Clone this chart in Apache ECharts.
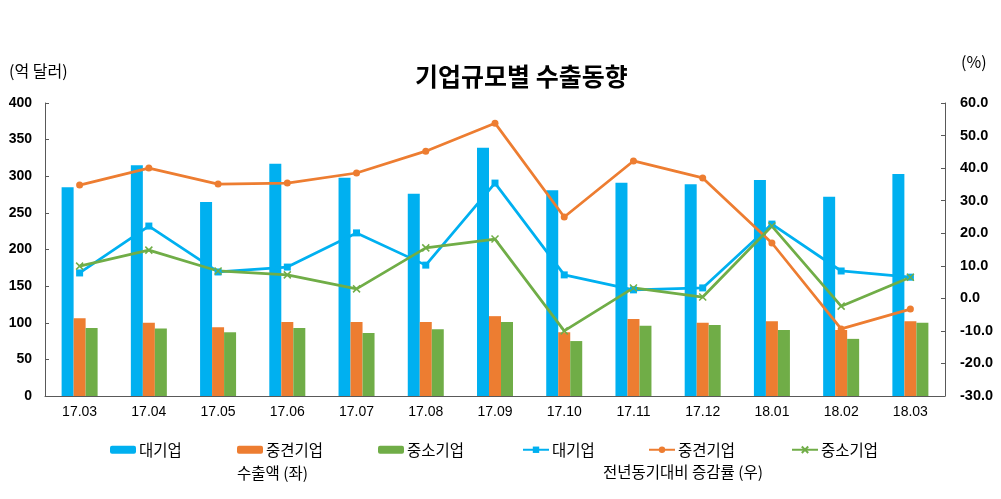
<!DOCTYPE html>
<html><head><meta charset="utf-8">
<script src="https://cdn.jsdelivr.net/npm/echarts@6/dist/echarts.min.js"></script>
<style>html,body{margin:0;padding:0;background:#fff}#c{width:1001px;height:499px}</style>
</head><body><div id="c"></div>
<script>
const categories = ['17.03','17.04','17.05','17.06','17.07','17.08','17.09','17.10','17.11','17.12','18.01','18.02','18.03'];
const exportLarge = [285,315,265,317,298,276,339,281,291,289,295,272,303];
const exportMid   = [106,100,94,101,101,101,109,87,105,100,102,90,102];
const exportSmall = [93,92,87,93,86,91,101,75,96,97,90,78,100];
const growthLarge = [7.8,22.2,8.1,9.6,20.1,10.2,35.4,7.2,2.6,3.2,22.8,8.4,6.5];
const growthMid   = [34.8,40.0,35.1,35.4,38.5,45.2,53.8,25.0,42.2,37.0,17.0,-9.4,-3.3];
const growthSmall = [9.9,14.8,8.4,7.2,2.9,15.5,18.2,-10.0,3.2,0.4,22.2,-2.4,6.5];
const leftTicks = {min:0,max:400,interval:50};
const rightTicks = {min:-30,max:60,interval:10};

const BLUE='#00B0F0', ORANGE='#ED7D31', GREEN='#70AD47';
const KR='"Noto Sans CJK KR", sans-serif';
const NUM='"Liberation Sans", Arial, sans-serif';

const chart = echarts.init(document.getElementById('c'));
const disp = n => n.split('|')[0];
const legendBase = {top:442, padding:0, itemWidth:26, itemHeight:8, itemGap:0, textStyle:{fontFamily:KR,fontSize:15.5,color:'#000',padding:[0,0,0,-2]}, formatter:disp, selectedMode:false};
const legendPos = [['대기업|a',110],['중견기업|a',237],['중소기업|a',378],['대기업|b',522],['중견기업|b',648],['중소기업|b',791]];

chart.setOption({
  animation:false,
  grid:{left:45,right:56,top:103,bottom:103},
  title:{text:'기업규모별 수출동향',left:415,top:64,textStyle:{fontFamily:KR,fontSize:25,fontWeight:'bold',color:'#000'},padding:0,itemGap:0},
  legend: legendPos.map(([n,x])=>Object.assign({},legendBase,{left:x,data:[n]})),
  graphic:[
    {type:'text',left:9,top:63,style:{text:'(억 달러)',font:'16px '+KR,fill:'#000'}},
    {type:'text',left:961,top:54,style:{text:'(%)',font:'16px '+KR,fill:'#000'}},
    {type:'text',left:237,top:465,style:{text:'수출액 (좌)',font:'15.5px '+KR,fill:'#000'}},
    {type:'text',left:603,top:464,style:{text:'전년동기대비 증감률 (우)',font:'15.5px '+KR,fill:'#000'}}
  ],
  xAxis:{type:'category',data:categories,
    axisLine:{lineStyle:{color:'#595959',width:1}},axisTick:{show:false},
    axisLabel:{fontFamily:NUM,fontSize:14,color:'#000',margin:9}},
  yAxis:[
    {type:'value',min:leftTicks.min,max:leftTicks.max,interval:leftTicks.interval,
     axisLine:{show:true,lineStyle:{color:'#595959'}},axisTick:{show:true,inside:true,length:4,lineStyle:{color:'#595959'}},
     splitLine:{show:false},axisLabel:{fontFamily:NUM,fontSize:14,fontWeight:'bold',color:'#000',margin:13}},
    {type:'value',min:rightTicks.min,max:rightTicks.max,interval:rightTicks.interval,position:'right',
     axisLine:{show:true,lineStyle:{color:'#595959'}},axisTick:{show:true,inside:true,length:4,lineStyle:{color:'#595959'}},
     splitLine:{show:false},axisLabel:{fontFamily:NUM,fontSize:14.5,fontWeight:'bold',color:'#000',margin:15,formatter:v=>v.toFixed(1)}}
  ],
  series:[
    {name:'대기업|a',type:'bar',data:exportLarge,barWidth:12,barGap:'0%',itemStyle:{color:BLUE}},
    {name:'중견기업|a',type:'bar',data:exportMid,barWidth:12,barGap:'0%',itemStyle:{color:ORANGE}},
    {name:'중소기업|a',type:'bar',data:exportSmall,barWidth:12,barGap:'0%',itemStyle:{color:GREEN}},
    {name:'대기업|b',type:'line',yAxisIndex:1,data:growthLarge,symbol:'rect',symbolSize:7,showAllSymbol:true,
     lineStyle:{color:BLUE,width:2.75},itemStyle:{color:BLUE}},
    {name:'중견기업|b',type:'line',yAxisIndex:1,data:growthMid,symbol:'circle',symbolSize:7,showAllSymbol:true,
     lineStyle:{color:ORANGE,width:2.75},itemStyle:{color:ORANGE}},
    {name:'중소기업|b',type:'line',yAxisIndex:1,data:growthSmall,symbol:'path://M0,0L10,10M10,0L0,10',symbolSize:7,showAllSymbol:true,
     lineStyle:{color:GREEN,width:2.75},itemStyle:{color:GREEN,borderColor:GREEN,borderWidth:1.5}}
  ]
});
</script></body></html>
